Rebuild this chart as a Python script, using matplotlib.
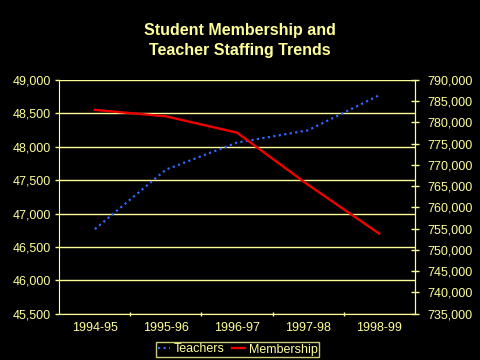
import matplotlib
matplotlib.use("Agg")
import matplotlib.pyplot as plt
from matplotlib.ticker import FuncFormatter, FixedLocator
import numpy as np

years = ["1994-95", "1995-96", "1996-97", "1997-98", "1998-99"]
teachers = [46766, 47658, 48062, 48247, 48771]
membership = [782970, 781450, 777610, 765340, 753850]

YEL = "#FFFF99"
plt.rcParams["font.family"] = ["Liberation Sans", "DejaVu Sans"]

fig = plt.figure(figsize=(4.8, 3.6), dpi=100, facecolor="black")
ax = fig.add_axes([59.3/480, 1-313.7/360, (414.7-59.3)/480, (313.7-80)/360])
ax.set_facecolor("black")
ax2 = ax.twinx()

x = np.arange(len(years))
l1, = ax.plot(x, teachers, color="#3366FF", linestyle=(0, (1, 1.5)), linewidth=1.6, label="Teachers")
l2, = ax2.plot(x, membership, color="#EE0000", linewidth=1.7, label="Membership")

ax.set_xlim(-0.5, len(years) - 0.5)
ax.set_ylim(45500, 49000)
ax2.set_ylim(735000, 790000)
ax.set_yticks(np.arange(45500, 49001, 500))
ax2.set_yticks(np.arange(735000, 790001, 5000))
fmt = FuncFormatter(lambda v, p: f"{int(v):,}")
ax.yaxis.set_major_formatter(fmt)
ax2.yaxis.set_major_formatter(fmt)

ax.set_xticks(x)
ax.set_xticklabels(years)
ax.xaxis.set_minor_locator(FixedLocator(np.arange(0.5, len(years) - 0.5, 1)))
ax.tick_params(axis="x", which="major", length=0, colors=YEL, labelsize=9, pad=6)
ax.tick_params(axis="x", which="minor", length=3, direction="inout", color=YEL, width=1)
ax.tick_params(axis="y", length=3, direction="out", colors=YEL, labelsize=9, width=1, pad=3)
ax2.tick_params(axis="y", length=6, direction="inout", colors=YEL, labelsize=9, width=1, pad=6)

ax.grid(axis="y", color=YEL, linewidth=1)
ax.set_axisbelow(True)
for a in (ax, ax2):
    a.spines["top"].set_visible(False)
    a.spines["left"].set_color(YEL)
    a.spines["right"].set_color(YEL)
    a.spines["bottom"].set_color(YEL)
ax2.spines["left"].set_visible(False)
ax2.spines["bottom"].set_visible(False)

fig.text(0.5, 1 - 31/360, "Student Membership and", ha="center", va="center",
         color=YEL, fontsize=11.5, fontweight="bold")
fig.text(0.5, 1 - 50/360, "Teacher Staffing Trends", ha="center", va="center",
         color=YEL, fontsize=11.5, fontweight="bold")

leg = fig.legend(handles=[l1, l2], loc="center", bbox_to_anchor=(237.5/480, 1 - 349.5/360),
                 ncol=2, frameon=True, facecolor="black", edgecolor=YEL, fontsize=9,
                 handlelength=1.0, handletextpad=0.3, columnspacing=0.6,
                 borderpad=0.12, borderaxespad=0, fancybox=False, labelcolor=YEL)
leg.get_frame().set_linewidth(1)

fig.savefig("out.png", dpi=100, facecolor="black")
